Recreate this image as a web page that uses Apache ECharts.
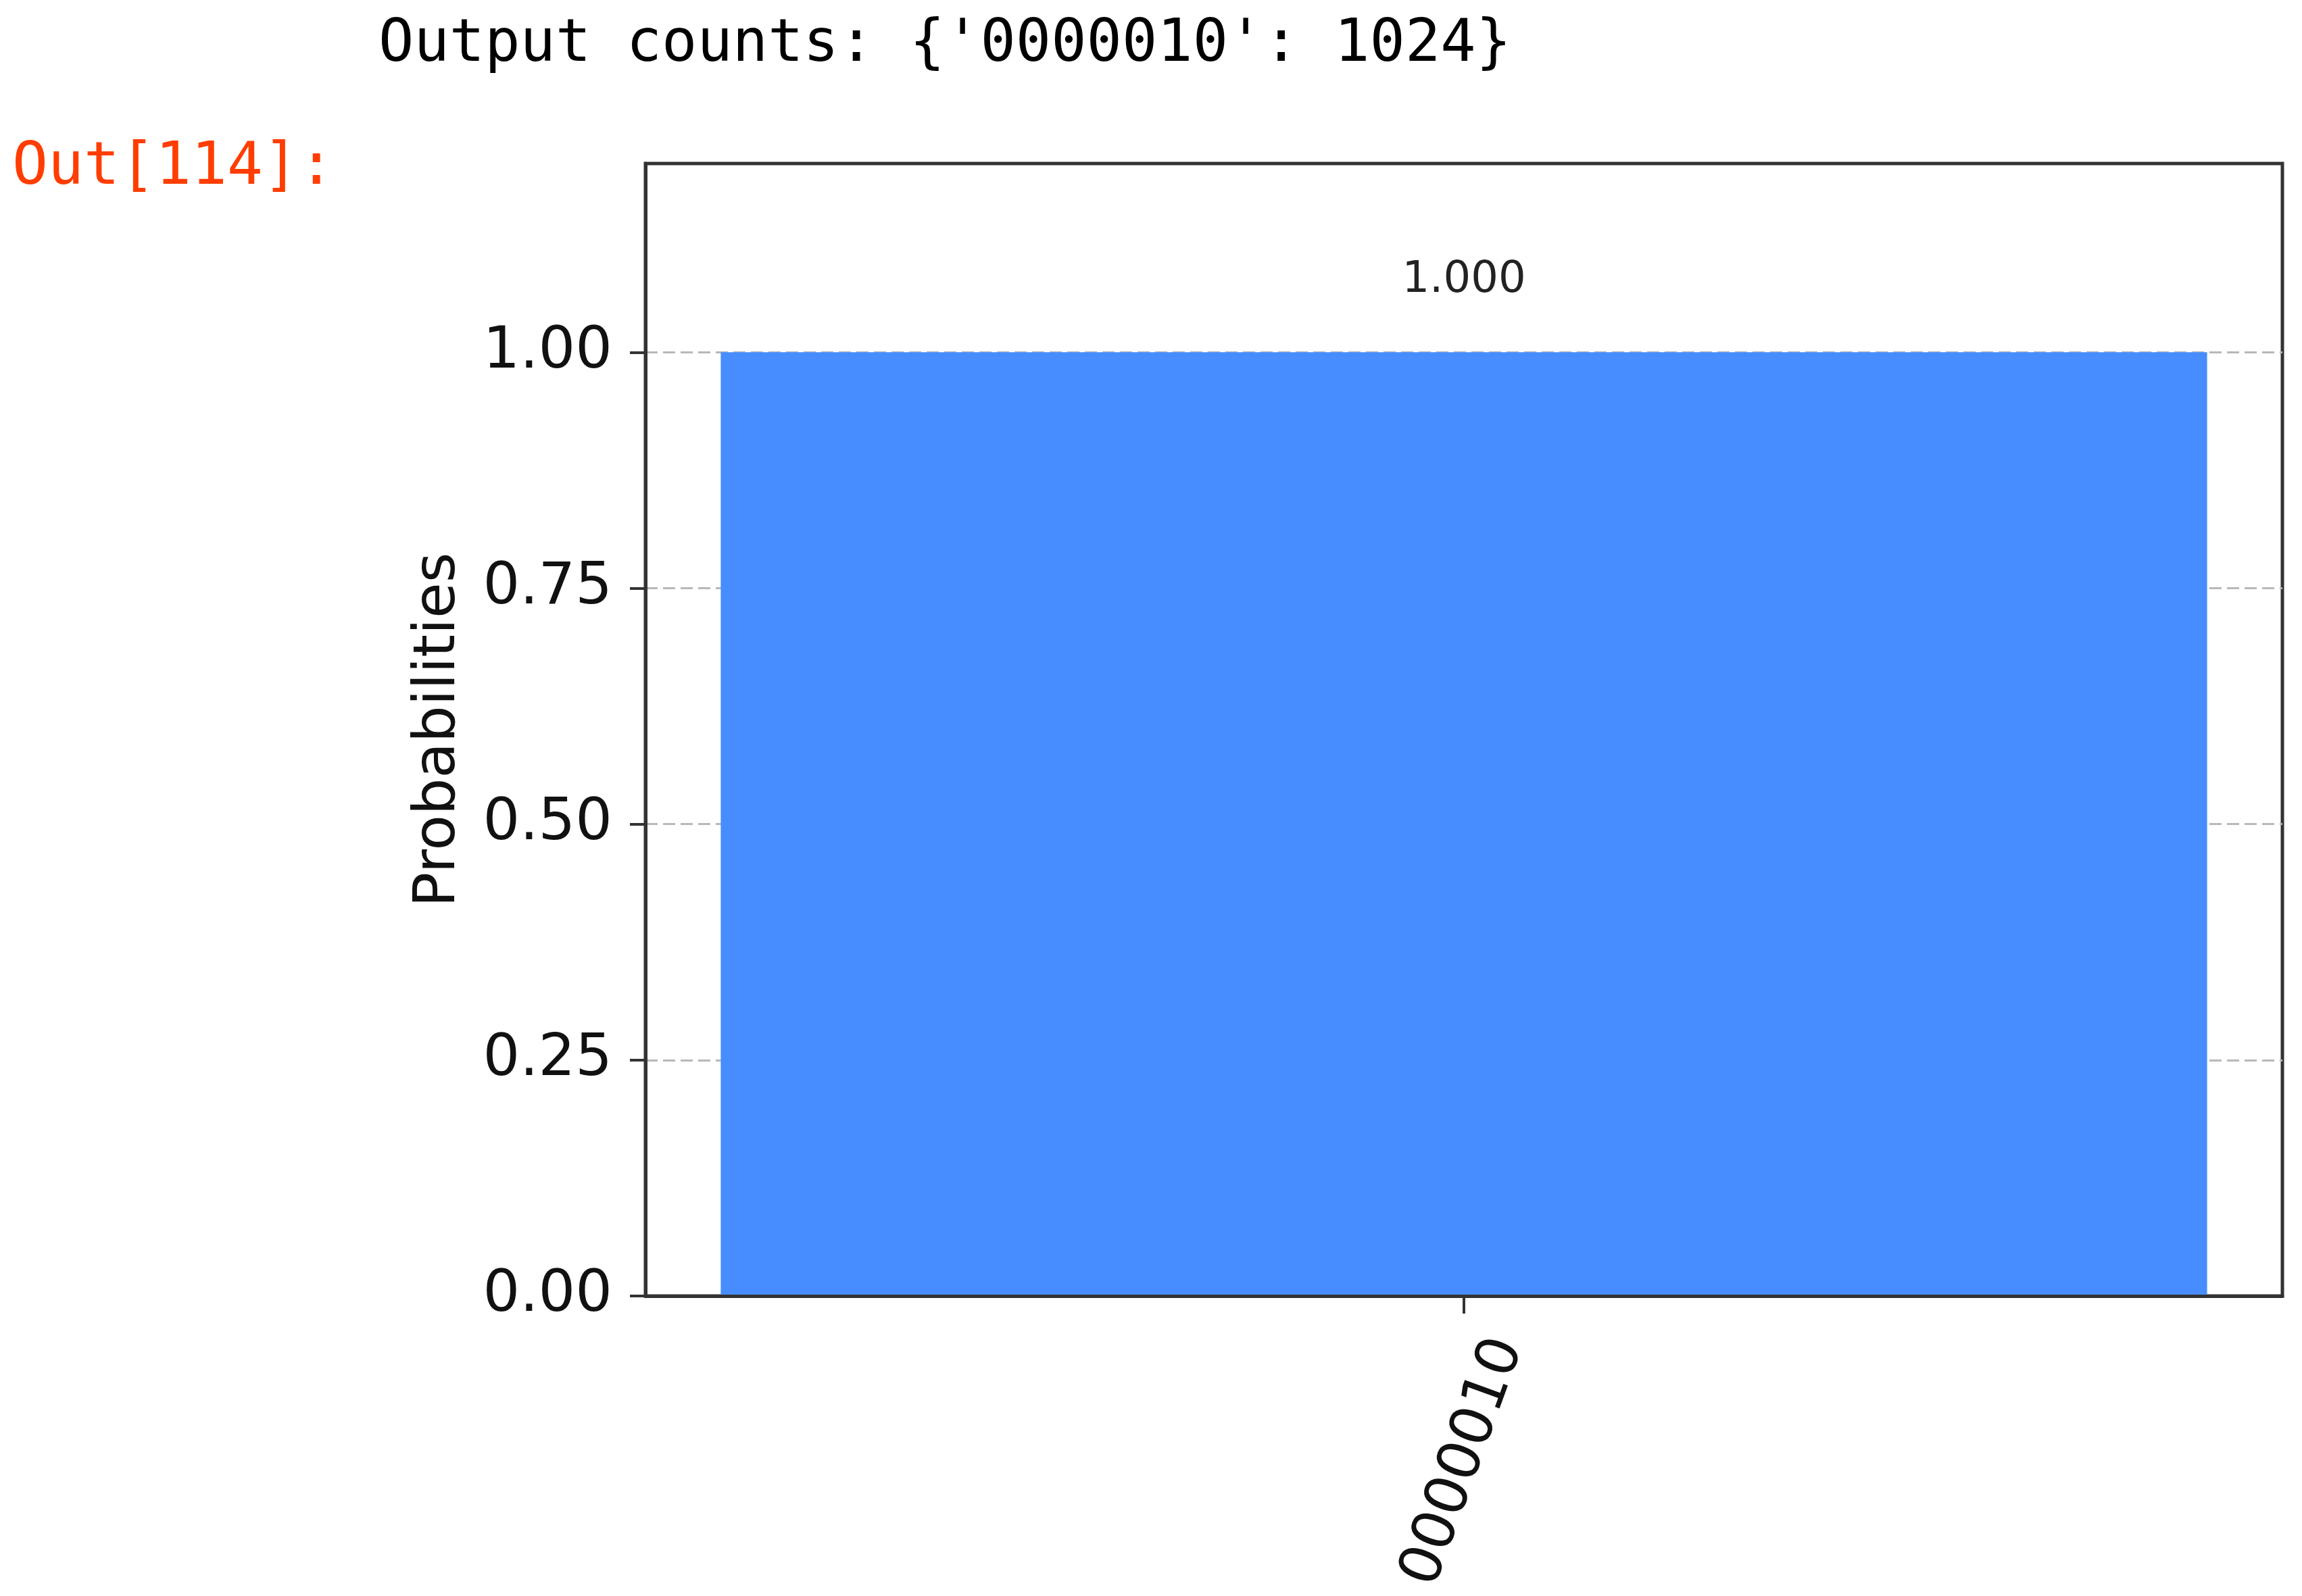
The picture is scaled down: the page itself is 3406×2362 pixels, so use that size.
<!DOCTYPE html>
<html>
<head>
<meta charset="utf-8">
<script src="https://cdn.jsdelivr.net/npm/echarts@6/dist/echarts.min.js"></script>
<style>
	html, body { margin : 0; padding : 0; background : #ffffff; }
	#main { width : 3406px; height : 2362px; }
</style>
</head>
<body>
<div id="main"></div>
<script>
// 数据
var categories = [ '0000010' ];
var counts = [ 1024 ];
var probabilities = [ 1.0 ];
var yTicks = [ 0, 0.25, 0.5, 0.75, 1.0 ];
var cellNo = 114;

function countsText() {
	var parts = [];
	for (var i = 0; i < categories.length; i++) {
		parts.push("'" + categories[i] + "': " + counts[i]);
	}
	return 'Output counts: {' + parts.join(', ') + '}';
}

function drawHist() {
	var myChart = echarts.init(document.getElementById('main'));
	var tickFont = 86;
	option = {
		backgroundColor : '#ffffff',
		animation : false,
		graphic : [ {
			type : 'text',
			left : 560,
			top : 24,
			style : {
				text : countsText(),
				font : '87px "DejaVu Sans Mono"',
				fill : '#000000'
			}
		}, {
			type : 'text',
			left : 18,
			top : 205,
			style : {
				text : 'Out[' + cellNo + ']:',
				font : '88px "DejaVu Sans Mono"',
				fill : '#ff3d00'
			}
		} ],
		grid : {
			left : 955,
			right : 29,
			top : 242,
			bottom : 444,
			containLabel : false,
			outerBoundsMode : 'none',
			show : true,
			borderColor : '#333333',
			borderWidth : 5,
			backgroundColor : '#ffffff'
		},
		xAxis : {
			type : 'category',
			data : categories,
			z : 5,
			axisLine : {
				show : true,
				lineStyle : { color : '#333333', width : 5 }
			},
			axisTick : {
				show : true,
				alignWithLabel : true,
				length : 26,
				lineStyle : { color : '#333333', width : 4 }
			},
			axisLabel : {
				rotate : 70,
				align : 'center',
				verticalAlign : 'middle',
				margin : 246,
				fontFamily : 'DejaVu Sans',
				fontSize : tickFont,
				color : '#111111'
			},
			splitLine : { show : false }
		},
		yAxis : {
			type : 'value',
			min : 0,
			max : 1.2,
			interval : 0.25,
			name : 'Probabilities',
			nameLocation : 'middle',
			nameRotate : 90,
			nameGap : 262,
			nameTextStyle : {
				fontFamily : 'DejaVu Sans',
				fontSize : 86,
				color : '#111111'
			},
			axisLine : {
				show : true,
				lineStyle : { color : '#333333', width : 5 }
			},
			axisTick : {
				show : true,
				length : 23,
				customValues : yTicks,
				lineStyle : { color : '#333333', width : 4 }
			},
			axisLabel : {
				customValues : yTicks,
				margin : 49,
				fontFamily : 'DejaVu Sans',
				fontSize : tickFont,
				color : '#111111',
				formatter : function(v) {
					return v.toFixed(2);
				}
			},
			splitLine : {
				show : true,
				showMinLine : false,
				lineStyle : {
					color : '#b8b8b8',
					width : 3,
					type : [ 18, 8 ]
				}
			}
		},
		series : [ {
			type : 'bar',
			data : probabilities,
			barWidth : '90.8%',
			itemStyle : {
				color : '#478dff',
				borderColor : '#478dff',
				borderWidth : 4
			},
			label : {
				show : true,
				position : 'top',
				distance : 74,
				fontFamily : 'DejaVu Sans',
				fontSize : 64,
				color : '#222222',
				formatter : function(p) {
					return p.value.toFixed(3);
				}
			}
		} ]
	};
	myChart.setOption(option);
}

drawHist();
</script>
</body>
</html>
